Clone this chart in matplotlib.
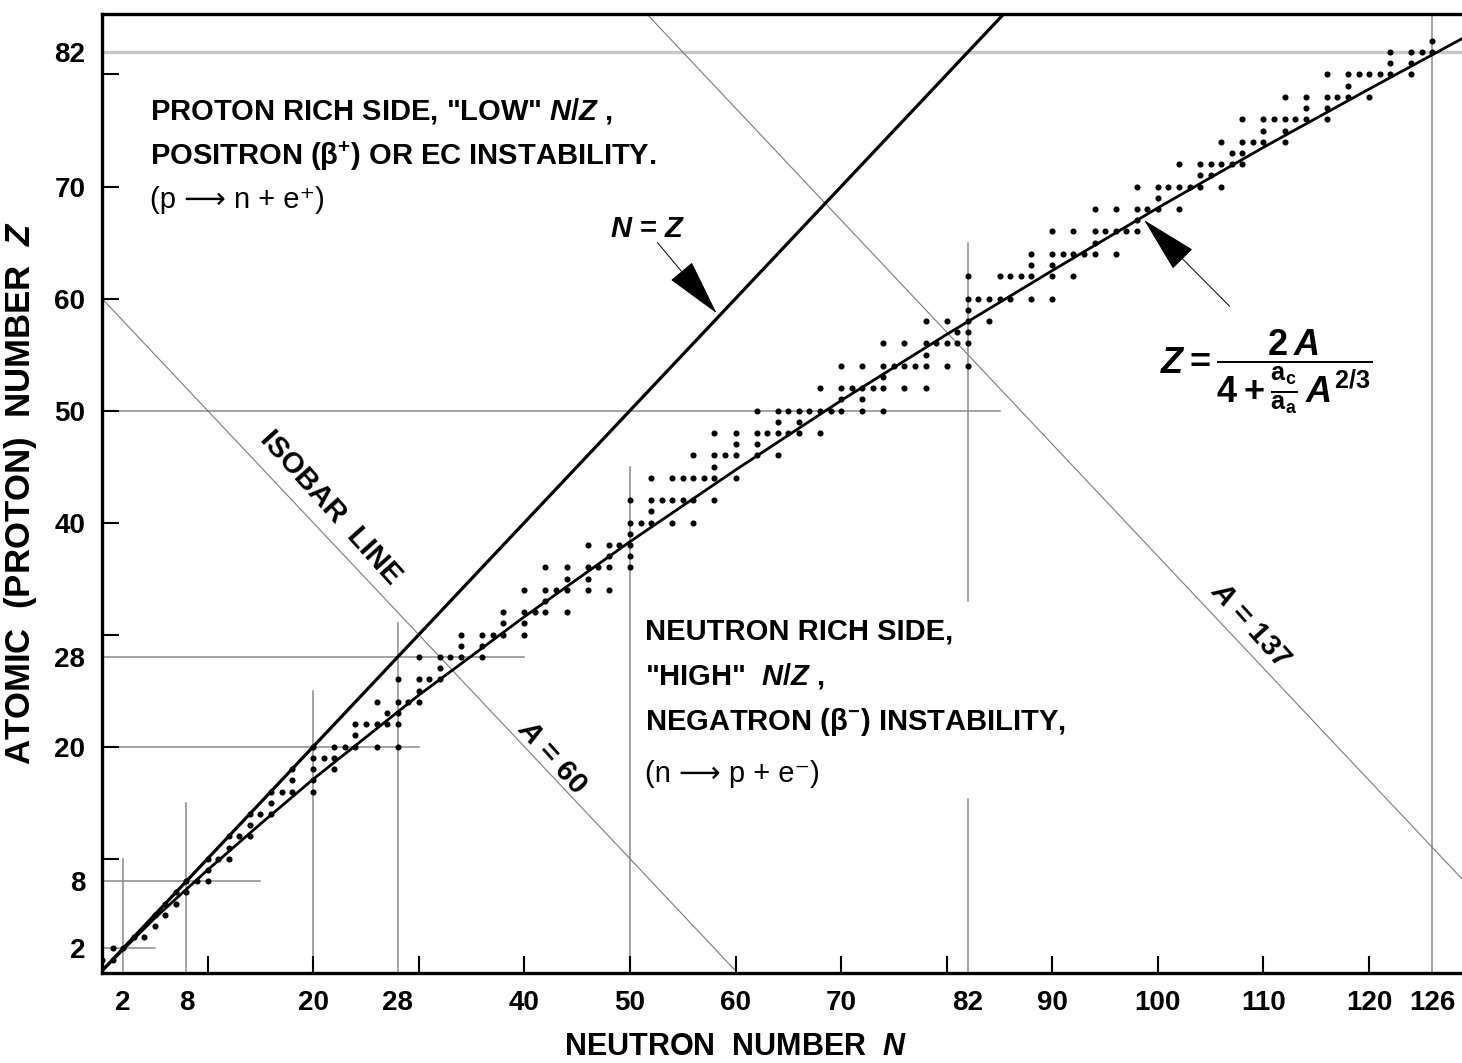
import matplotlib
matplotlib.use("Agg")
import matplotlib.pyplot as plt

plt.rcParams["font.family"] = ["Liberation Sans", "DejaVu Sans"]
plt.rcParams["font.weight"] = "bold"
plt.rcParams["mathtext.fontset"] = "custom"
plt.rcParams["mathtext.rm"] = "Liberation Sans:bold"
plt.rcParams["mathtext.it"] = "Liberation Sans:italic:bold"
plt.rcParams["mathtext.bf"] = "Liberation Sans:bold"

# stable nuclides: neutron numbers N for each Z = 1 .. 83
stable_N = [
    [0, 1], [1, 2], [3, 4], [5], [5, 6], [6, 7], [7, 8], [8, 9, 10], [10],
    [10, 11, 12], [12], [12, 13, 14], [14], [14, 15, 16], [16],
    [16, 17, 18, 20], [18, 20], [18, 20, 22], [20, 21, 22],
    [20, 22, 23, 24, 26, 28], [24], [24, 25, 26, 27, 28], [27, 28],
    [26, 28, 29, 30], [30], [28, 30, 31, 32], [32], [30, 32, 33, 34, 36],
    [34, 36], [34, 36, 37, 38, 40], [38, 40], [38, 40, 41, 42, 44], [42],
    [40, 42, 43, 44, 46, 48], [44, 46], [42, 44, 46, 47, 48, 50], [48, 50],
    [46, 48, 49, 50], [50], [50, 51, 52, 54, 56], [52],
    [50, 52, 53, 54, 55, 56, 58], [], [52, 54, 55, 56, 57, 58, 60], [58],
    [56, 58, 59, 60, 62, 64], [60, 62], [58, 60, 62, 63, 64, 65, 66, 68],
    [64, 66], [62, 64, 65, 66, 67, 68, 69, 70, 72, 74], [70, 72],
    [68, 70, 71, 72, 73, 74, 76, 78], [74],
    [70, 72, 74, 75, 76, 77, 78, 80, 82], [78],
    [74, 76, 78, 79, 80, 81, 82], [81, 82], [78, 80, 82, 84], [82],
    [82, 83, 84, 85, 86, 88, 90], [], [82, 85, 86, 87, 88, 90, 92], [88, 90],
    [88, 90, 91, 92, 93, 94, 96], [94], [90, 92, 94, 95, 96, 97, 98], [98],
    [94, 96, 98, 99, 100, 102], [100], [98, 100, 101, 102, 103, 104, 106],
    [104, 105], [102, 104, 105, 106, 107, 108], [107, 108],
    [106, 108, 109, 110, 112], [110, 112], [108, 110, 111, 112, 113, 114, 116],
    [114, 116], [112, 114, 116, 117, 118, 120], [118],
    [116, 118, 119, 120, 121, 122, 124], [122, 124], [122, 124, 125, 126], [126],
]

# line of stability
curve_N = [0, 5, 10, 15, 20, 30, 40, 50, 60, 70, 80, 90, 100, 110, 120, 129]
curve_Z = [0, 4.7, 9.0, 13.1, 17.1, 24.6, 31.6, 38.3, 44.7, 50.9, 56.8, 62.5,
           68.1, 73.5, 78.7, 83.3]

# magic-number guide lines: (value, start, end)
magic_Z_lines = [(2, 0, 5), (8, 0, 15), (20, 0, 30), (28, 0, 40), (50, 0, 85)]
magic_N_lines = [(2, 0, 10), (8, 0, 15), (20, 0, 25), (28, 0, 31), (50, 0, 45),
                 (82, 0, 15.3), (82, 33, 65)]
isobars = [60, 137]

x_tick_labels = [2, 8, 20, 28, 40, 50, 60, 70, 82, 90, 100, 110, 120, 126]
y_tick_labels = [2, 8, 20, 28, 40, 50, 60, 70, 82]

fig = plt.figure(figsize=(14.62, 10.63), dpi=100)
ax = fig.add_axes([102 / 1462, 1 - 973 / 1063, 1360 / 1462, 959 / 1063])
ax.set_xlim(0, 128.8)
ax.set_ylim(-0.2, 85.4)

# guide lines
ax.axhline(82, color="#c8c8c8", lw=2.5, zorder=1)
ax.axvline(126, color="#8a8a8a", lw=1.1, zorder=1)
for z, n0, n1 in magic_Z_lines:
    ax.plot([n0, n1], [z, z], color="#8a8a8a", lw=1.1, zorder=1)
for n, z0, z1 in magic_N_lines:
    ax.plot([n, n], [z0, z1], color="#8a8a8a", lw=1.1, zorder=1)
for a in isobars:
    ax.plot([0, a], [a, 0], color="#7a7a7a", lw=0.8, zorder=1)

# N = Z line and stability curve
ax.plot([0, 100], [0, 100], color="black", lw=2.3, zorder=3)
ax.plot(curve_N, curve_Z, color="black", lw=2.0, zorder=3)

# stable nuclides
pts_n, pts_z = [], []
for z, ns in enumerate(stable_N, start=1):
    for n in ns:
        pts_n.append(n)
        pts_z.append(z)
ax.plot(pts_n, pts_z, "o", color="black", ms=4.4, mew=0, zorder=4)

# ticks: marks every 10, labels at magic numbers and decades
ax.xaxis.remove_overlapping_locs = False
ax.yaxis.remove_overlapping_locs = False
ax.set_xticks(range(10, 130, 10))
ax.set_xticklabels([])
ax.set_yticks(range(10, 90, 10))
ax.set_yticklabels([])
ax.tick_params(which="major", direction="in", length=12, width=1.5)
ax.set_xticks(x_tick_labels, minor=True)
ax.set_xticklabels([str(v) for v in x_tick_labels], minor=True)
ax.set_yticks(y_tick_labels, minor=True)
ax.set_yticklabels([str(v) for v in y_tick_labels], minor=True)
ax.tick_params(which="minor", length=0, labelsize=20, pad=12)

for s in ["left", "bottom", "top"]:
    ax.spines[s].set_linewidth(2.4)
ax.spines["right"].set_visible(False)

ax.set_xlabel("NEUTRON  NUMBER  $N$", fontsize=22, fontweight="bold")
ax.xaxis.set_label_coords(0.466, -0.062)
ax.set_ylabel("ATOMIC  (PROTON)  NUMBER  $Z$", fontsize=25, fontweight="bold")
ax.yaxis.set_label_coords(-0.046, 0.5)

# region texts
fs = 21
ax.text(4.5, 76.7, 'PROTON RICH SIDE, "LOW" $N$/$Z$ ,', fontsize=fs, va="center")
ax.text(4.5, 72.7, r"POSITRON ($\mathrm{\beta}^{+}$) OR EC INSTABILITY.", fontsize=fs,
        va="center")
ax.text(4.5, 68.8, "(p \u27f6 n + e\u207a)", fontsize=fs, va="center",
        fontweight="normal")

ax.text(51.4, 30.3, "NEUTRON RICH SIDE,", fontsize=fs, va="center")
ax.text(51.4, 26.3, '"HIGH"  $N$/$Z$ ,', fontsize=fs, va="center")
ax.text(51.4, 22.2, r"NEGATRON ($\mathrm{\beta}^{-}$) INSTABILITY,", fontsize=fs,
        va="center")
ax.text(51.4, 17.6, "(n \u27f6 p + e\u207b)", fontsize=fs, va="center",
        fontweight="normal")

ax.text(21.7, 41.3, "ISOBAR  LINE", fontsize=fs, rotation=-48,
        ha="center", va="center")
ax.text(42.6, 19.1, "$A$ = 60", fontsize=fs, rotation=-48, ha="center", va="center")
ax.text(108.7, 30.9, "$A$ = 137", fontsize=fs, rotation=-48, ha="center", va="center")

# arrows with labels
arrow = dict(arrowstyle="-|>,head_length=1.7,head_width=0.42", color="black",
             lw=0.7, shrinkA=0, shrinkB=0, mutation_scale=22)
ax.annotate("", xy=(58.2, 58.7), xytext=(52.6, 65.0), arrowprops=arrow)
ax.text(51.7, 66.2, "$N$ = $Z$", fontsize=fs, ha="center", va="center")

ax.annotate("", xy=(98.7, 67.0), xytext=(106.8, 59.3), arrowprops=arrow)
ax.text(110.3, 53.5,
        r"$Z = \dfrac{2\,A}{4 + \frac{\mathrm{a_c}}{\mathrm{a_a}}\,A^{2/3}}$",
        fontsize=26, ha="center", va="center")

fig.savefig("out.png", dpi=100)
